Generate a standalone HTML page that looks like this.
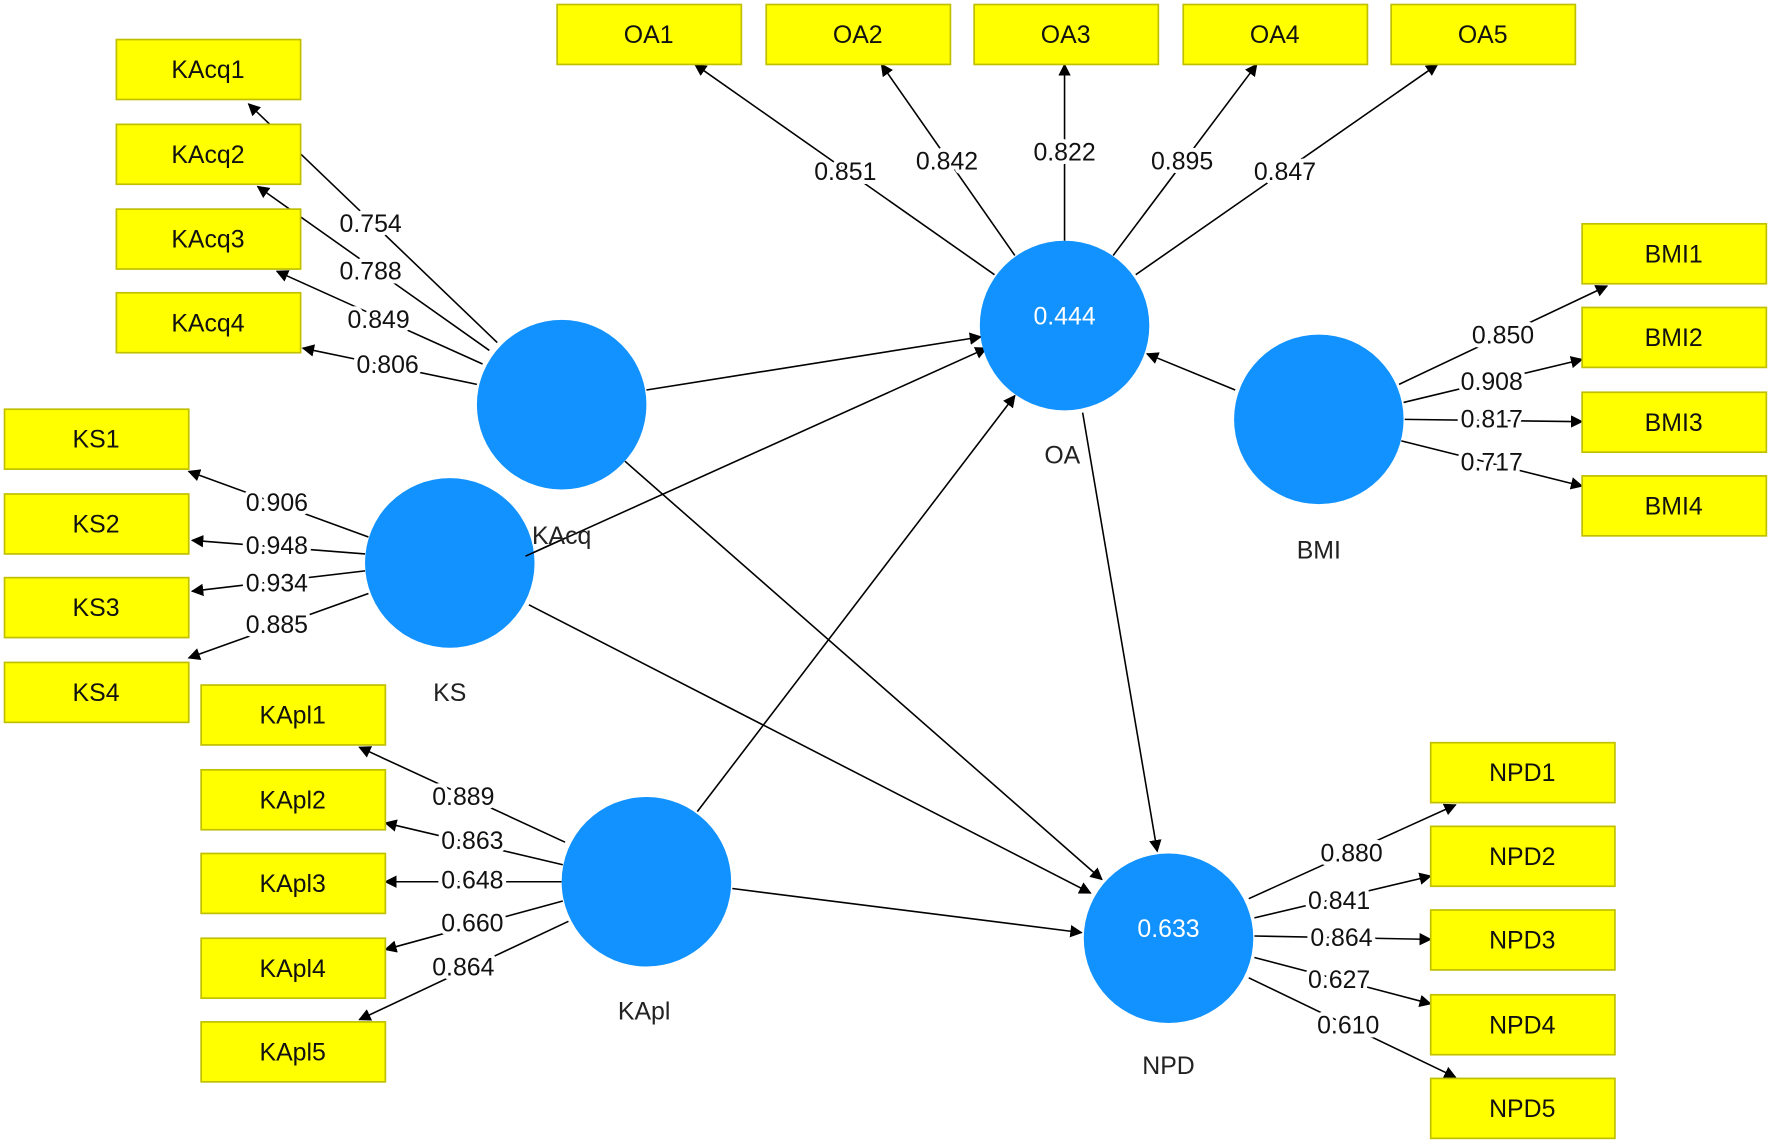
<!DOCTYPE html>
<html><head><meta charset="utf-8"><style>
html,body{margin:0;padding:0;background:#fff;}
svg{display:block;}
text{font-family:"Liberation Sans",sans-serif;}
.b{fill:#ffff00;stroke:#c0c000;stroke-width:1.5;}
.bt{font-size:22px;fill:#111;text-anchor:middle;dominant-baseline:central;}
.c{fill:#1192fe;}
.l{stroke:#000;stroke-width:1.4;fill:none;marker-end:url(#ah);}
.n{font-size:22px;fill:#111;text-anchor:middle;dominant-baseline:central;paint-order:stroke;stroke:#fff;stroke-width:7px;stroke-linejoin:round;}
.cl{font-size:22px;fill:#222;text-anchor:middle;dominant-baseline:central;}
.r{font-size:22px;fill:#fff;text-anchor:middle;dominant-baseline:central;}
</style></head><body>
<svg width="1772" height="1144" viewBox="0 0 1568 1012" preserveAspectRatio="none">
<defs><marker id="ah" viewBox="0 0 10 10" refX="9" refY="5" markerWidth="11" markerHeight="11" markerUnits="userSpaceOnUse" orient="auto"><path d="M0,0 L10,5 L0,10 z" fill="#000"/></marker></defs>

<!-- structural -->
<line class="l" x1="572" y1="345" x2="868" y2="298"/>
<line class="l" x1="465" y1="492" x2="873" y2="308"/>
<line class="l" x1="617" y1="718" x2="898" y2="350"/>
<line class="l" x1="958" y1="365" x2="1024" y2="753"/>
<line class="l" x1="553" y1="408" x2="975" y2="778"/>
<line class="l" x1="468" y1="535" x2="965" y2="790"/>
<line class="l" x1="648" y1="786" x2="957" y2="825"/>
<line class="l" x1="1093" y1="345" x2="1015" y2="313"/>

<!-- loadings lines -->
<line class="l" x1="440" y1="303" x2="220" y2="92"/>
<line class="l" x1="433" y1="310" x2="228" y2="165"/>
<line class="l" x1="427" y1="322" x2="245" y2="240"/>
<line class="l" x1="422" y1="340" x2="268" y2="308"/>
<line class="l" x1="326" y1="475" x2="167" y2="417"/>
<line class="l" x1="323" y1="490" x2="170" y2="478"/>
<line class="l" x1="323" y1="505" x2="170" y2="523"/>
<line class="l" x1="326" y1="525" x2="167" y2="582"/>
<line class="l" x1="500" y1="745" x2="318" y2="661"/>
<line class="l" x1="498" y1="765" x2="341" y2="728"/>
<line class="l" x1="497" y1="780" x2="341" y2="780"/>
<line class="l" x1="498" y1="797" x2="341" y2="840"/>
<line class="l" x1="503" y1="815" x2="318" y2="902"/>
<line class="l" x1="880" y1="243" x2="615" y2="57"/>
<line class="l" x1="898" y1="226" x2="780" y2="57"/>
<line class="l" x1="942" y1="213" x2="942" y2="57"/>
<line class="l" x1="985" y1="226" x2="1112" y2="57"/>
<line class="l" x1="1005" y1="243" x2="1272" y2="57"/>
<line class="l" x1="1238" y1="340" x2="1422" y2="253"/>
<line class="l" x1="1242" y1="356" x2="1400" y2="318"/>
<line class="l" x1="1243" y1="371" x2="1400" y2="373"/>
<line class="l" x1="1240" y1="390" x2="1400" y2="430"/>
<line class="l" x1="1105" y1="795" x2="1288" y2="712"/>
<line class="l" x1="1110" y1="812" x2="1266" y2="775"/>
<line class="l" x1="1110" y1="828" x2="1266" y2="831"/>
<line class="l" x1="1110" y1="847" x2="1266" y2="888"/>
<line class="l" x1="1105" y1="865" x2="1288" y2="953"/>

<!-- boxes -->
<g>
<rect class="b" x="103" y="35" width="163" height="53"/><text class="bt" x="184" y="62">KAcq1</text>
<rect class="b" x="103" y="110" width="163" height="53"/><text class="bt" x="184" y="137">KAcq2</text>
<rect class="b" x="103" y="185" width="163" height="53"/><text class="bt" x="184" y="212">KAcq3</text>
<rect class="b" x="103" y="259" width="163" height="53"/><text class="bt" x="184" y="286">KAcq4</text>
<rect class="b" x="4" y="362" width="163" height="53"/><text class="bt" x="85" y="389">KS1</text>
<rect class="b" x="4" y="437" width="163" height="53"/><text class="bt" x="85" y="464">KS2</text>
<rect class="b" x="4" y="511" width="163" height="53"/><text class="bt" x="85" y="538">KS3</text>
<rect class="b" x="4" y="586" width="163" height="53"/><text class="bt" x="85" y="613">KS4</text>
<rect class="b" x="178" y="606" width="163" height="53"/><text class="bt" x="259" y="633">KApl1</text>
<rect class="b" x="178" y="681" width="163" height="53"/><text class="bt" x="259" y="708">KApl2</text>
<rect class="b" x="178" y="755" width="163" height="53"/><text class="bt" x="259" y="782">KApl3</text>
<rect class="b" x="178" y="830" width="163" height="53"/><text class="bt" x="259" y="857">KApl4</text>
<rect class="b" x="178" y="904" width="163" height="53"/><text class="bt" x="259" y="931">KApl5</text>
<rect class="b" x="493" y="4" width="163" height="53"/><text class="bt" x="574" y="31">OA1</text>
<rect class="b" x="678" y="4" width="163" height="53"/><text class="bt" x="759" y="31">OA2</text>
<rect class="b" x="862" y="4" width="163" height="53"/><text class="bt" x="943" y="31">OA3</text>
<rect class="b" x="1047" y="4" width="163" height="53"/><text class="bt" x="1128" y="31">OA4</text>
<rect class="b" x="1231" y="4" width="163" height="53"/><text class="bt" x="1312" y="31">OA5</text>
<rect class="b" x="1400" y="198" width="163" height="53"/><text class="bt" x="1481" y="225">BMI1</text>
<rect class="b" x="1400" y="272" width="163" height="53"/><text class="bt" x="1481" y="299">BMI2</text>
<rect class="b" x="1400" y="347" width="163" height="53"/><text class="bt" x="1481" y="374">BMI3</text>
<rect class="b" x="1400" y="421" width="163" height="53"/><text class="bt" x="1481" y="448">BMI4</text>
<rect class="b" x="1266" y="657" width="163" height="53"/><text class="bt" x="1347" y="684">NPD1</text>
<rect class="b" x="1266" y="731" width="163" height="53"/><text class="bt" x="1347" y="758">NPD2</text>
<rect class="b" x="1266" y="805" width="163" height="53"/><text class="bt" x="1347" y="832">NPD3</text>
<rect class="b" x="1266" y="880" width="163" height="53"/><text class="bt" x="1347" y="907">NPD4</text>
<rect class="b" x="1266" y="954" width="163" height="53"/><text class="bt" x="1347" y="981">NPD5</text>
</g>

<!-- loading labels -->
<text class="n" x="328" y="198">0.754</text>
<text class="n" x="328" y="240">0.788</text>
<text class="n" x="335" y="283">0.849</text>
<text class="n" x="343" y="323">0.806</text>
<text class="n" x="245" y="445">0.906</text>
<text class="n" x="245" y="483">0.948</text>
<text class="n" x="245" y="516">0.934</text>
<text class="n" x="245" y="553">0.885</text>
<text class="n" x="410" y="705">0.889</text>
<text class="n" x="418" y="744">0.863</text>
<text class="n" x="418" y="779">0.648</text>
<text class="n" x="418" y="817">0.660</text>
<text class="n" x="410" y="856">0.864</text>
<text class="n" x="748" y="152">0.851</text>
<text class="n" x="838" y="143">0.842</text>
<text class="n" x="942" y="135">0.822</text>
<text class="n" x="1046" y="143">0.895</text>
<text class="n" x="1137" y="152">0.847</text>
<text class="n" x="1330" y="297">0.850</text>
<text class="n" x="1320" y="338">0.908</text>
<text class="n" x="1320" y="371">0.817</text>
<text class="n" x="1320" y="409">0.717</text>
<text class="n" x="1196" y="755">0.880</text>
<text class="n" x="1185" y="797">0.841</text>
<text class="n" x="1187" y="830">0.864</text>
<text class="n" x="1185" y="867">0.627</text>
<text class="n" x="1193" y="907">0.610</text>

<!-- circles -->
<circle class="c" cx="497" cy="358" r="75"/>
<circle class="c" cx="398" cy="498" r="75"/>
<circle class="c" cx="942" cy="288" r="75"/>
<circle class="c" cx="1167" cy="371" r="75"/>
<circle class="c" cx="572" cy="780" r="75"/>
<circle class="c" cx="1034" cy="830" r="75"/>
<line x1="465" y1="492" x2="500" y2="476" stroke="#000" stroke-width="1.4"/>
<text class="r" x="942" y="280">0.444</text>
<text class="r" x="1034" y="822">0.633</text>
<text class="cl" x="497" y="474">KAcq</text>
<text class="cl" x="398" y="613">KS</text>
<text class="cl" x="940" y="403">OA</text>
<text class="cl" x="1167" y="487">BMI</text>
<text class="cl" x="570" y="895">KApl</text>
<text class="cl" x="1034" y="943">NPD</text>
</svg>
</body></html>
